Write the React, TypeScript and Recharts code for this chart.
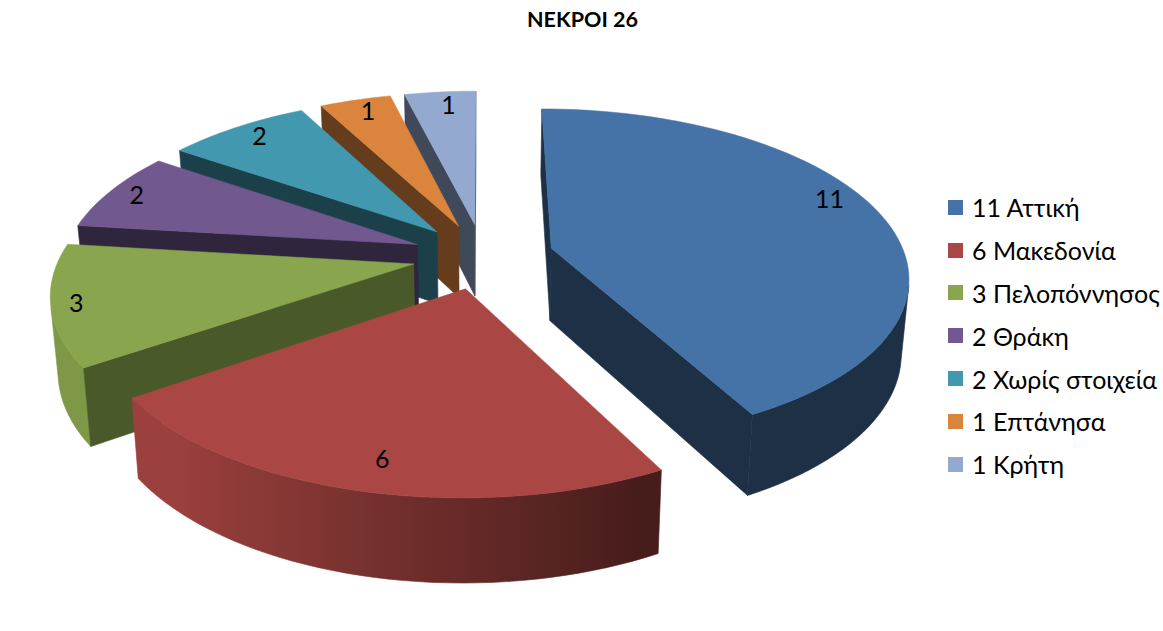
import React from 'react';
import { PieChart, Pie, Legend } from 'recharts';

const regions = ['Αττική', 'Μακεδονία', 'Πελοπόννησος', 'Θράκη', 'Χωρίς στοιχεία', 'Επτάνησα', 'Κρήτη'];
const deaths = [11, 6, 3, 2, 2, 1, 1];
const colours = ['#4572A7', '#AA4643', '#89A54E', '#71588F', '#4198AF', '#DB843D', '#93A9CF'];
// how dark the cut walls of each slice come out
const cutShades = [0.42, 0.42, 0.54, 0.42, 0.42, 0.46, 0.43];
// hand placed labels, offset from the point on the slice's middle line
const labelNudges = [[9, -19], [2, 9], [-42, 4], [-27, -6], [-10, -9], [-4, -10], [3, -9]];

// slices are painted back to front, so the table runs the other way round from the legend
const table = regions
  .map((name, i) => ({ name: `${deaths[i]} ${name}`, value: deaths[i], fill: colours[i], order: i }))
  .reverse();

const FONT = 'Lato, "Open Sans", sans-serif';
const SQUASH = 0.463; // height of the tilted disc against its width
const PERSPECTIVE = 0.16;
const EXPLODE = 0.2;
const DEPTH = 73;
const BOTTOM_SHRINK = 0.982;

const RAD = Math.PI / 180;

type Pt = [number, number];

// angle in recharts degrees, r as a fraction of the radius
const project = (p: any, mid: number, angle: number, r: number, lower = false): Pt => {
  const u = Math.cos(angle * RAD) * r + Math.cos(mid * RAD) * EXPLODE;
  const v = -Math.sin(angle * RAD) * r - Math.sin(mid * RAD) * EXPLODE;
  const s = 1 / (1 - PERSPECTIVE * v);
  const x = p.cx + s * p.outerRadius * u;
  const y = p.cy + s * p.outerRadius * SQUASH * v;
  if (!lower) return [x, y];
  return [p.cx + (x - p.cx) * BOTTOM_SHRINK, y + (1 + (s - 1) * 0.7) * DEPTH];
};

const shade = (hex: string, f: number) => {
  const n = parseInt(hex.slice(1), 16);
  const c = [n >> 16, (n >> 8) & 255, n & 255].map((k) => Math.round(k * f));
  return `rgb(${c[0]},${c[1]},${c[2]})`;
};

const area = (pts: Pt[]) =>
  pts.reduce((sum, a, i) => {
    const b = pts[(i + 1) % pts.length];
    return sum + a[0] * b[1] - b[0] * a[1];
  }, 0);

const toPath = (pts: Pt[]) => `M${pts.map((q) => `${q[0].toFixed(2)},${q[1].toFixed(2)}`).join('L')}Z`;

const Slice3D = (props: any) => {
  const { startAngle, endAngle, fill, order } = props;
  const hi = Math.max(startAngle, endAngle);
  const lo = Math.min(startAngle, endAngle);
  const mid = (hi + lo) / 2;
  const steps = Math.max(4, Math.ceil((hi - lo) / 2));
  const top: Pt[] = [];
  const low: Pt[] = [];
  const angles: number[] = [];
  for (let i = 0; i <= steps; i++) {
    const a = hi - ((hi - lo) * i) / steps;
    angles.push(a);
    top.push(project(props, mid, a, 1));
    low.push(project(props, mid, a, 1, true));
  }
  const apex = project(props, mid, mid, 0);
  const apexLow = project(props, mid, mid, 0, true);
  const cutColor = shade(fill, cutShades[order]);
  const cuts = [
    [top[0], apex, apexLow, low[0]],
    [apex, top[steps], low[steps], apexLow],
  ].filter((pts: any) => area(pts) > 0) as Pt[][];

  // the part of the rim that faces the viewer, as one polygon with a side to side gradient
  const visible: number[] = [];
  for (let i = 0; i < steps; i++) {
    if (area([top[i + 1], top[i], low[i], low[i + 1]]) > 0) visible.push(i);
  }
  const rim: Pt[] = [];
  const stops: { x: number; color: string }[] = [];
  if (visible.length) {
    const first = visible[0];
    const last = visible[visible.length - 1] + 1;
    for (let i = first; i <= last; i++) {
      rim.push(top[i]);
      const f = Math.max(0.42, Math.min(0.92, 0.6 - Math.cos(angles[i] * RAD) * 0.45));
      stops.push({ x: top[i][0], color: shade(fill, f) });
    }
    for (let i = last; i >= first; i--) rim.push(low[i]);
  }
  const xs = stops.map((s) => s.x);
  const x0 = Math.min(...xs);
  const x1 = Math.max(...xs);
  const gradientId = `rim-${order}`;

  return (
    <g>
      {rim.length > 0 && (
        <defs>
          <linearGradient id={gradientId} gradientUnits="userSpaceOnUse" x1={x0} x2={x1} y1={0} y2={0}>
            {[...stops]
              .sort((a, b) => a.x - b.x)
              .map((s, i) => (
                <stop key={i} offset={(s.x - x0) / (x1 - x0 || 1)} stopColor={s.color} />
              ))}
          </linearGradient>
        </defs>
      )}
      {rim.length > 0 && (
        <path d={toPath(rim)} fill={`url(#${gradientId})`} stroke={`url(#${gradientId})`} strokeWidth={0.6} />
      )}
      {cuts.map((pts, i) => (
        <path key={i} d={toPath(pts)} fill={cutColor} stroke={cutColor} strokeWidth={0.6} />
      ))}
      <path d={toPath([apex, ...top])} fill={fill} stroke={fill} strokeWidth={0.5} />
    </g>
  );
};

const SliceLabel = (props: any) => {
  const [x, y] = project(props, props.midAngle, props.midAngle, 0.82);
  const [dx, dy] = labelNudges[props.order ?? props.payload?.order ?? 0];
  return (
    <text x={x + dx} y={y + dy} fill="#000" fontSize={25} fontFamily={FONT} textAnchor="middle" dominantBaseline="central">
      {props.value}
    </text>
  );
};

const LegendList = ({ payload }: any) => (
  <div style={{ fontFamily: FONT, fontSize: 25, color: '#000' }}>
    {[...(payload || [])].reverse().map((entry: any) => (
      <div key={entry.value} style={{ display: 'flex', alignItems: 'center', height: 42.8, whiteSpace: 'nowrap' }}>
        <span style={{ width: 15, height: 15, marginRight: 9, background: entry.payload?.fill ?? entry.color }} />
        {entry.value}
      </div>
    ))}
  </div>
);

export default function App() {
  return (
    <div style={{ position: 'absolute', left: 0, top: 0, width: 1163, height: 631, background: '#fff', overflow: 'hidden' }}>
      <div
        style={{
          position: 'absolute',
          left: 1,
          top: 7,
          width: 1163,
          textAlign: 'center',
          fontFamily: FONT,
          fontWeight: 700,
          fontSize: 21.5,
          lineHeight: '24px',
        }}
      >
        ΝΕΚΡΟΙ 26
      </div>
      <PieChart width={1163} height={631} margin={{ top: 0, right: 0, bottom: 0, left: 0 }}>
        <Pie
          data={table}
          dataKey="value"
          nameKey="name"
          cx={483}
          cy={256}
          outerRadius={354}
          startAngle={90}
          endAngle={450}
          stroke="none"
          shape={Slice3D}
          label={SliceLabel}
          labelLine={false}
          isAnimationActive={false}
        />
        <Legend
          layout="vertical"
          content={LegendList}
          itemSorter={null}
          wrapperStyle={{ position: 'absolute', left: 948, top: 186, width: 215, bottom: 'auto', right: 'auto' }}
        />
      </PieChart>
    </div>
  );
}
